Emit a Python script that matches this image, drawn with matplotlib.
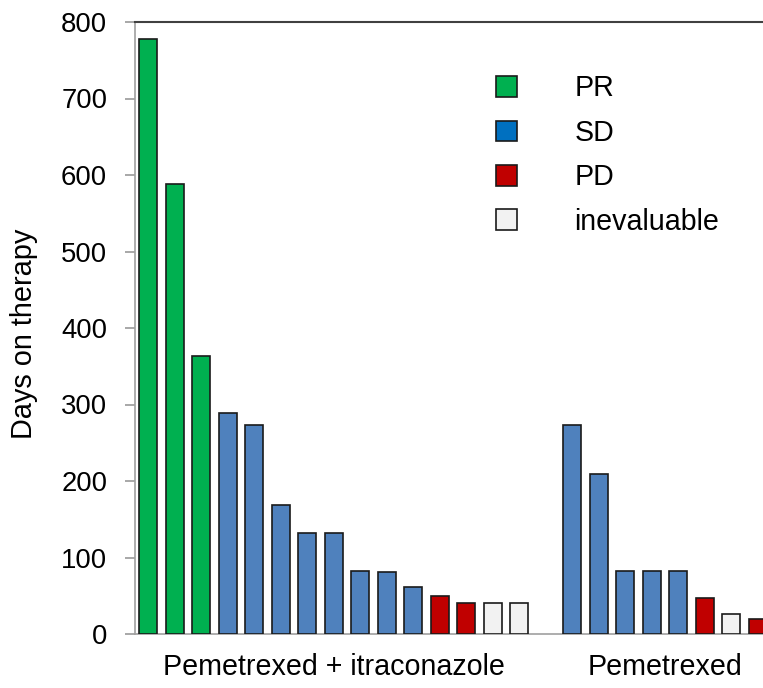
import matplotlib
matplotlib.use("Agg")
import matplotlib.pyplot as plt
from matplotlib.patches import Patch

plt.rcParams['font.family'] = ['Liberation Sans', 'DejaVu Sans']

# days on therapy per patient, sorted within each arm
combo_days = [778, 588, 363, 289, 273, 168, 132, 132, 82, 81, 61, 50, 41, 41, 40]
combo_resp = ['PR', 'PR', 'PR', 'SD', 'SD', 'SD', 'SD', 'SD', 'SD', 'SD', 'SD',
              'PD', 'PD', 'NE', 'NE']
pem_days = [273, 209, 83, 83, 83, 47, 26, 20]
pem_resp = ['SD', 'SD', 'SD', 'SD', 'SD', 'PD', 'NE', 'PD']
groups = ['Pemetrexed + itraconazole', 'Pemetrexed']

bar_col = {'PR': '#00B050', 'SD': '#4F81BD', 'PD': '#C00000', 'NE': '#F2F2F2'}
leg_col = {'PR': '#00B050', 'SD': '#0070C0', 'PD': '#C00000', 'NE': '#F2F2F2'}
leg_names = {'PR': 'PR', 'SD': 'SD', 'PD': 'PD', 'NE': 'inevaluable'}

fig = plt.figure(figsize=(7.63, 6.88), dpi=100)
ax = fig.add_axes([135 / 763, 54 / 688, 636 / 763, 612 / 688])

x1 = list(range(len(combo_days)))
x2 = [len(combo_days) + 1 + i for i in range(len(pem_days))]
ax.bar(x1, combo_days, width=0.68, color=[bar_col[r] for r in combo_resp],
       edgecolor='#1a1a1a', linewidth=1.2, zorder=3)
ax.bar(x2, pem_days, width=0.68, color=[bar_col[r] for r in pem_resp],
       edgecolor='#1a1a1a', linewidth=1.2, zorder=3)

ax.set_xlim(-0.5, x2[-1] + 0.5)
ax.set_ylim(0, 800)
ax.set_yticks(range(0, 801, 100))
ax.set_xticks([(x1[0] + x1[-1]) / 2, (x2[0] + x2[-1]) / 2])
ax.set_xticklabels(groups)
ax.tick_params(axis='x', length=0, pad=14, labelsize=20.6)
ax.tick_params(axis='y', length=7, width=1.2, color='#999999', pad=13, labelsize=19.8)
ax.set_ylabel('Days on therapy', fontsize=20.8)
ax.yaxis.set_label_coords(-0.152, 0.49)

for side in ['left', 'bottom']:
    ax.spines[side].set_color('#a0a0a0')
    ax.spines[side].set_linewidth(1.2)
ax.spines['top'].set_color('#404040')
ax.spines['top'].set_linewidth(1.5)
ax.spines['right'].set_visible(False)

handles = [Patch(facecolor=leg_col[k], edgecolor='#1a1a1a', linewidth=1.2)
           for k in ['PR', 'SD', 'PD', 'NE']]
ax.legend(handles, [leg_names[k] for k in ['PR', 'SD', 'PD', 'NE']],
          loc='upper left', bbox_to_anchor=(496 / 763, 1 - 74.5 / 688),
          bbox_transform=fig.transFigure, frameon=False, fontsize=20.6,
          handlelength=0.74, handleheight=0.74, handletextpad=2.0,
          labelspacing=0.575, borderpad=0, borderaxespad=0)

fig.savefig('out.png', dpi=100)
